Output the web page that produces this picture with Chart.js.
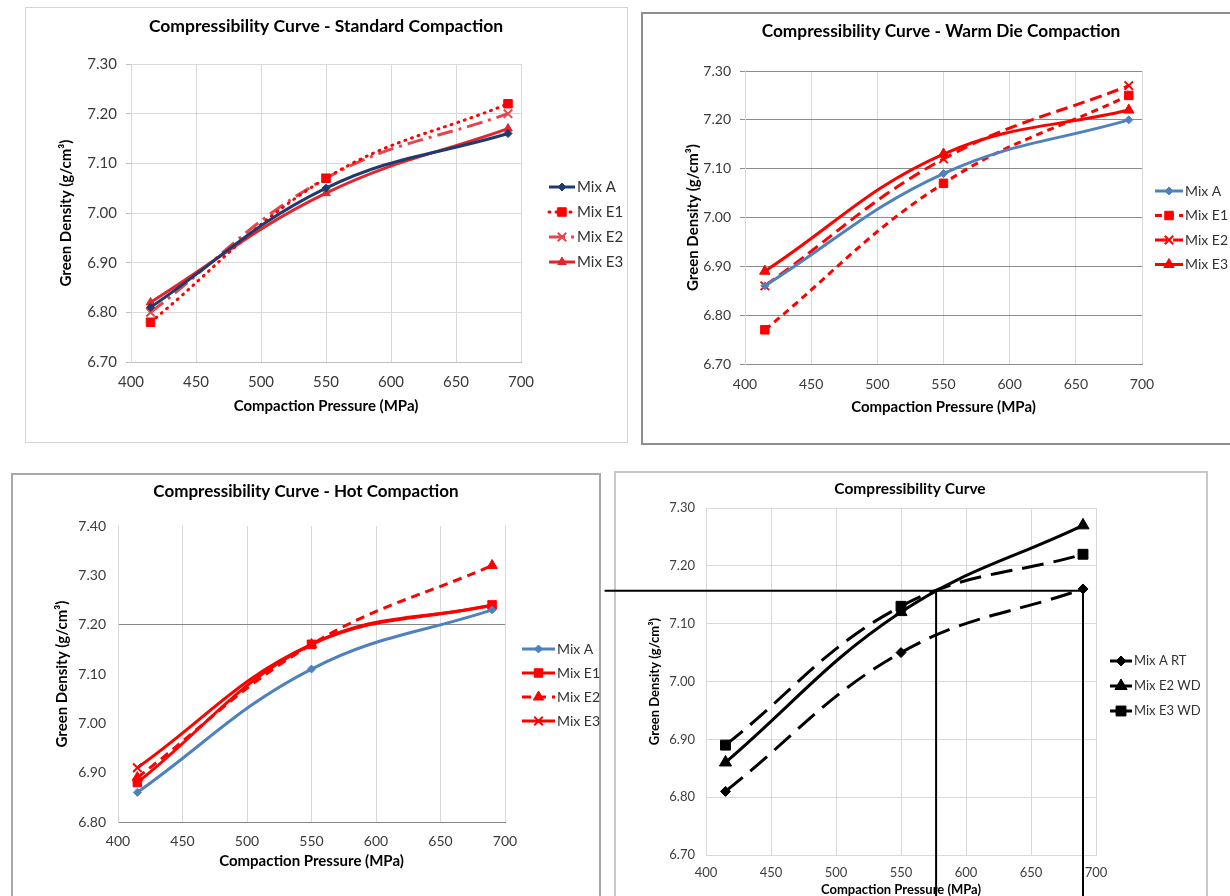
<!DOCTYPE html>
<html>
<head>
<meta charset="utf-8">
<script src="https://cdn.jsdelivr.net/npm/chart.js@4"></script>
<style>
  body { margin: 0; width: 1230px; height: 896px; overflow: hidden; background: #fff; position: relative; }
  .box { position: absolute; box-sizing: border-box; }
  canvas { position: absolute; }
</style>
</head>
<body>
<div class="box" style="left:25px;top:7px;width:603px;height:436px;border:1px solid #d4d4d4;"></div>
<div class="box" style="left:641px;top:12px;width:620px;height:433px;border:2px solid #8e8e8e;"></div>
<div class="box" style="left:11px;top:473px;width:590px;height:460px;border:2px solid #a8a8a8;"></div>
<div class="box" style="left:614px;top:471px;width:594px;height:460px;border:2px solid #c8c8c8;"></div>

<canvas id="chart1" width="602" height="435" style="left:25px;top:7px;"></canvas>
<canvas id="chart2" width="589" height="432" style="left:641px;top:12px;"></canvas>
<canvas id="chart3" width="588" height="440" style="left:12px;top:473px;"></canvas>
<canvas id="chart4" width="630" height="440" style="left:600px;top:471px;"></canvas>

<script>
// compaction pressures (MPa)
const pressure = [415, 550, 690];

// standard compaction
const stdMixA = [6.81, 7.05, 7.16];
const stdMixE1 = [6.78, 7.07, 7.22];
const stdMixE2 = [6.80, 7.07, 7.20];
const stdMixE3 = [6.82, 7.04, 7.17];

// warm die compaction
const warmMixA = [6.86, 7.09, 7.20];
const warmMixE1 = [6.77, 7.07, 7.25];
const warmMixE2 = [6.86, 7.12, 7.27];
const warmMixE3 = [6.89, 7.13, 7.22];

// hot compaction
const hotMixA = [6.86, 7.11, 7.23];
const hotMixE1 = [6.88, 7.16, 7.24];
const hotMixE2 = [6.89, 7.16, 7.32];
const hotMixE3 = [6.91, 7.16, 7.24];

// comparison
const cmpMixART = [6.81, 7.05, 7.16];
const cmpMixE2WD = [6.86, 7.12, 7.27];
const cmpMixE3WD = [6.89, 7.13, 7.22];

// guide lines drawn on the comparison chart
const guideDensity = 7.157;
const guidePressure = 577;
const guideStart = 322;
const guideBottom = 6.62;

const FONT = 'Lato, "Open Sans", sans-serif';

function pts(ys) {
    return pressure.map((p, i) => ({ x: p, y: ys[i] }));
}

function series(label, ys, color, style, radius, dash, extra) {
    return Object.assign({
        label: label,
        data: pts(ys),
        borderColor: color,
        backgroundColor: color,
        borderWidth: 3,
        borderDash: dash || [],
        tension: 0.4,
        pointStyle: style,
        pointRadius: radius,
        pointBackgroundColor: color,
        pointBorderColor: color,
        pointBorderWidth: style === 'crossRot' ? 2 : 1,
    }, extra || {});
}

// title + legend drawn by hand so they sit where the original has them
const panelDecor = {
    id: 'panelDecor',
    afterDraw(chart, args, o) {
        const ctx = chart.ctx;
        ctx.save();
        ctx.fillStyle = '#000';
        ctx.font = 'bold ' + o.titleSize + 'px ' + FONT;
        ctx.textAlign = 'center';
        ctx.textBaseline = 'middle';
        ctx.fillText(o.title, o.titleX, o.titleY);

        let n = 0;
        chart.data.datasets.forEach(ds => {
            if (ds.noLegend) return;
            const y = o.legendY + n * o.legendDy;
            n++;
            ctx.strokeStyle = ds.borderColor;
            ctx.lineWidth = ds.borderWidth;
            ctx.lineCap = ds.borderCapStyle || 'butt';
            ctx.setLineDash(ds.borderDash || []);
            ctx.beginPath();
            ctx.moveTo(o.legendX, y);
            ctx.lineTo(o.legendX + o.legendLen, y);
            ctx.stroke();
            ctx.setLineDash([]);
            ctx.fillStyle = ds.pointBackgroundColor;
            ctx.strokeStyle = ds.pointBorderColor;
            ctx.lineWidth = ds.pointBorderWidth;
            Chart.helpers.drawPoint(ctx, {
                pointStyle: ds.pointStyle,
                radius: ds.pointRadius,
                rotation: 0,
                borderWidth: ds.pointBorderWidth
            }, o.legendX + o.legendLen / 2, y);
            ctx.fillStyle = o.legendColor;
            ctx.font = o.legendSize + 'px ' + FONT;
            ctx.textAlign = 'left';
            ctx.fillText(ds.label, o.legendX + o.legendLen + 2, y);
        });
        ctx.restore();
    }
};

function buildChart(id, c) {
    return new Chart(document.getElementById(id), {
        type: 'line',
        data: { datasets: c.datasets },
        plugins: [panelDecor],
        options: {
            animation: false,
            responsive: false,
            layout: { padding: { top: c.padTop, right: c.padRight, bottom: 0, left: 0 } },
            plugins: {
                legend: { display: false },
                tooltip: { enabled: false },
                panelDecor: c.decor
            },
            scales: {
                x: {
                    type: 'linear',
                    min: 400,
                    max: 700,
                    afterFit: s => { s.height = c.xHeight; },
                    ticks: {
                        stepSize: 50,
                        padding: c.xTickPad,
                        color: c.tickColor,
                        font: { family: FONT, size: c.tickSize }
                    },
                    grid: { color: c.vGrid, drawTicks: false },
                    border: { color: c.xBorder },
                    title: {
                        display: true,
                        text: 'Compaction Pressure (MPa)',
                        color: '#000',
                        font: { family: FONT, size: c.axisTitleSize, weight: 'bold' },
                        padding: { top: 0, bottom: c.xTitlePad }
                    }
                },
                y: {
                    min: c.yMin,
                    max: c.yMax,
                    afterFit: s => { s.width = c.yWidth; },
                    ticks: {
                        stepSize: 0.1,
                        padding: c.yTickPad,
                        color: c.tickColor,
                        font: { family: FONT, size: c.tickSize },
                        callback: v => Number(v).toFixed(2)
                    },
                    grid: { color: c.hGrid, tickLength: c.yTickLen, drawTicks: c.yTickLen > 0, tickColor: c.yTickColor },
                    border: { color: c.yBorder },
                    title: {
                        display: true,
                        text: 'Green Density (g/cm³)',
                        color: '#000',
                        font: { family: FONT, size: c.axisTitleSize, weight: 'bold' },
                        padding: { top: c.yTitlePad, bottom: 0 }
                    }
                }
            }
        }
    });
}

const RED = '#ff0000';
const BLUE = '#4f81bd';

buildChart('chart1', {
    datasets: [
        series('Mix A', stdMixA, '#1f3a6e', 'rectRot', 4),
        series('Mix E1', stdMixE1, RED, 'rect', 6, [1, 6], { borderCapStyle: 'round' }),
        series('Mix E2', stdMixE2, '#e2474d', 'crossRot', 6, [16, 6, 3, 6]),
        series('Mix E3', stdMixE3, '#e3262b', 'triangle', 5)
    ],
    padTop: 57, padRight: 106, xHeight: 80, yWidth: 106,
    xTickPad: 11, yTickPad: 9, yTickLen: 5, yTickColor: '#bfbfbf',
    xTitlePad: 27, yTitlePad: 32,
    tickColor: '#3a3a3a', tickSize: 15, axisTitleSize: 15,
    vGrid: '#d9d9d9', hGrid: '#d9d9d9', xBorder: '#bfbfbf', yBorder: '#d9d9d9',
    yMin: 6.7, yMax: 7.3,
    decor: {
        title: 'Compressibility Curve - Standard Compaction', titleSize: 17.5, titleX: 326 - 25, titleY: 19,
        legendX: 524, legendY: 180, legendDy: 25, legendLen: 26, legendSize: 15, legendColor: '#333'
    }
});

buildChart('chart2', {
    datasets: [
        series('Mix A', warmMixA, BLUE, 'rectRot', 4),
        series('Mix E1', warmMixE1, RED, 'rect', 6, [7, 5]),
        series('Mix E2', warmMixE2, RED, 'crossRot', 6, [12, 6]),
        series('Mix E3', warmMixE3, RED, 'triangle', 6)
    ],
    padTop: 59, padRight: 88, xHeight: 80, yWidth: 104,
    xTickPad: 12, yTickPad: 9, yTickLen: 5, yTickColor: '#8c8c8c',
    xTitlePad: 28, yTitlePad: 43,
    tickColor: '#3a3a3a', tickSize: 14, axisTitleSize: 15,
    vGrid: '#d9d9d9', hGrid: '#8c8c8c', xBorder: '#8c8c8c', yBorder: '#d9d9d9',
    yMin: 6.7, yMax: 7.3,
    decor: {
        title: 'Compressibility Curve - Warm Die Compaction', titleSize: 17.3, titleX: 300, titleY: 19,
        legendX: 514, legendY: 179, legendDy: 24.5, legendLen: 28, legendSize: 14, legendColor: '#333'
    }
});

buildChart('chart3', {
    datasets: [
        series('Mix A', hotMixA, BLUE, 'rectRot', 4),
        series('Mix E1', hotMixE1, RED, 'rect', 6),
        series('Mix E2', hotMixE2, RED, 'triangle', 6, [9, 6]),
        series('Mix E3', hotMixE3, RED, 'crossRot', 6)
    ],
    padTop: 53, padRight: 95, xHeight: 91, yWidth: 106,
    xTickPad: 11, yTickPad: 12, yTickLen: 0, yTickColor: '#fff',
    xTitlePad: 43, yTitlePad: 41,
    tickColor: '#3a3a3a', tickSize: 14, axisTitleSize: 15,
    vGrid: '#d9d9d9',
    hGrid: c => Math.abs(c.tick.value - 7.2) < 1e-6 ? '#868686' : 'rgba(0,0,0,0)',
    xBorder: '#868686', yBorder: '#d9d9d9',
    yMin: 6.8, yMax: 7.4,
    decor: {
        title: 'Compressibility Curve - Hot Compaction', titleSize: 17, titleX: 294, titleY: 19,
        legendX: 510, legendY: 176, legendDy: 24, legendLen: 33, legendSize: 14, legendColor: '#333'
    }
});

const guide = { borderColor: '#000', borderWidth: 2, pointRadius: 0, tension: 0, clip: false, noLegend: true };
buildChart('chart4', {
    datasets: [
        series('Mix A RT', cmpMixART, '#000', 'rectRot', 5, [22, 10]),
        series('Mix E2 WD', cmpMixE2WD, '#000', 'triangle', 7),
        series('Mix E3 WD', cmpMixE3WD, '#000', 'rect', 7, [22, 10]),
        Object.assign({ label: 'guide h', data: [{ x: guideStart, y: guideDensity }, { x: pressure[2], y: guideDensity }] }, guide),
        Object.assign({ label: 'guide v1', data: [{ x: guidePressure, y: guideDensity }, { x: guidePressure, y: guideBottom }] }, guide),
        Object.assign({ label: 'guide v2', data: [{ x: pressure[2], y: cmpMixART[2] }, { x: pressure[2], y: guideBottom }] }, guide)
    ],
    padTop: 37, padRight: 134, xHeight: 56, yWidth: 106,
    xTickPad: 10, yTickPad: 11, yTickLen: 0, yTickColor: '#fff',
    xTitlePad: 13, yTitlePad: 47,
    tickColor: '#404040', tickSize: 13, axisTitleSize: 13,
    vGrid: '#d9d9d9', hGrid: '#d9d9d9', xBorder: '#d9d9d9', yBorder: '#d9d9d9',
    yMin: 6.7, yMax: 7.3,
    decor: {
        title: 'Compressibility Curve', titleSize: 15.5, titleX: 310, titleY: 18,
        legendX: 510, legendY: 190, legendDy: 25, legendLen: 22, legendSize: 13, legendColor: '#333'
    }
});
</script>
</body>
</html>
